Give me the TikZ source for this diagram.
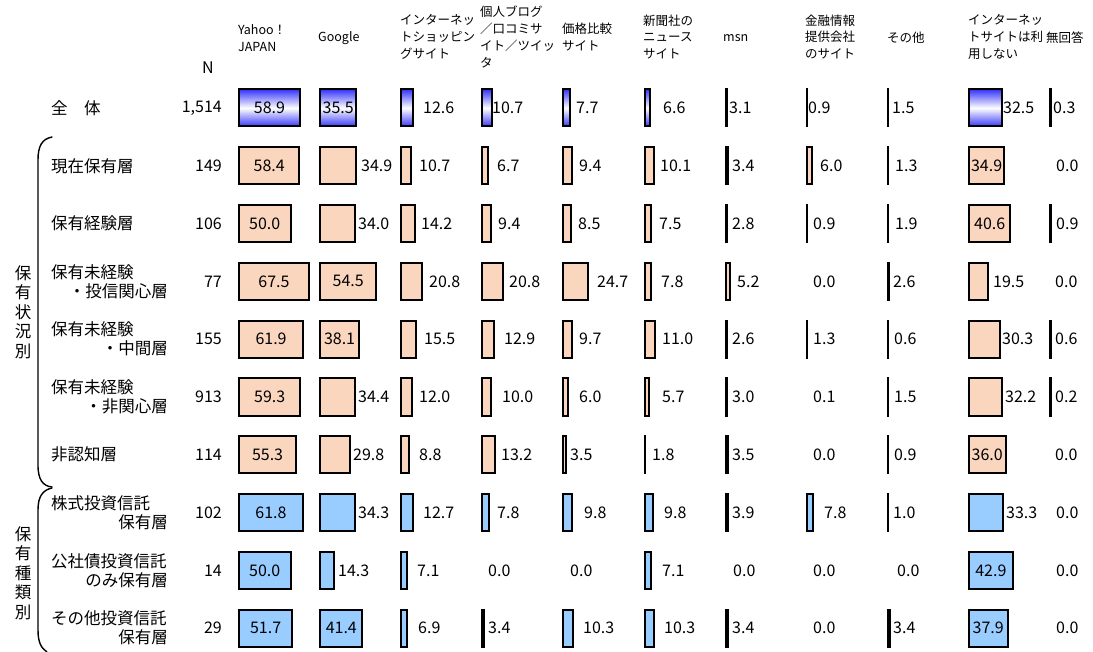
\documentclass[tikz,border=0pt]{standalone}
\usepackage{fontspec}
\setmainfont{Noto Sans CJK JP}
\definecolor{gblue}{RGB}{55,55,250}
\definecolor{peach}{RGB}{250,214,190}
\definecolor{lblue}{RGB}{153,204,255}
\tikzset{
 bar/.style={draw=black, line width=2pt, inner sep=0pt, minimum height=37pt, anchor=west},
 gr/.style={top color=gblue, bottom color=gblue, middle color=white},
 pc/.style={fill=peach},
 lb/.style={fill=lblue},
 val/.style={inner sep=0pt, font=\fontsize{16}{18}\selectfont},
 hdr/.style={inner sep=0pt, anchor=west, align=left, font=\fontsize{12.5}{16.8}\selectfont},
 rlab/.style={inner sep=0pt, font=\fontsize{16.5}{19}\selectfont},
 grp/.style={inner sep=0pt, align=center, font=\fontsize{16.5}{19.5}\selectfont},
 brace/.style={draw=black, line width=1.4pt, line cap=round}
}
\newcommand\Bin[4]{%
 \pgfmathsetmacro\cx{238+81.1*#2}%
 \pgfmathsetmacro\cy{108+57.8*#3}%
 \pgfmathsetmacro\bw{max(1.06*#4-1.5,0.6)}%
 \node[bar,#1,minimum width=\bw pt] (b#3-#2) at (\cx,\cy) {};
 \node[val] (l#3-#2) at (b#3-#2.center) {#4};
}
\newcommand\Bout[5]{%
 \pgfmathsetmacro\cx{238+81.1*#2}%
 \pgfmathsetmacro\cy{108+57.8*#3}%
 \pgfmathsetmacro\bw{max(1.06*#4-1.5,0.6)}%
 \node[bar,#1,minimum width=\bw pt] (b#3-#2) at (\cx,\cy) {};
 \node[val,anchor=west] (l#3-#2) at (#5,\cy) {#4};
}
\newcommand\Lab[4]{%
 \pgfmathsetmacro\cy{108+57.8*#2}%
 \node[val,anchor=west] (l#2-#1) at (#4,\cy) {#3};
}
\newcommand\RowA[3]{% row, label, N
 \pgfmathsetmacro\cy{108+57.8*#1}%
 \node[rlab,anchor=west] (r#1) at (51,\cy) {#2};
 \node[val,anchor=east] (n#1) at (222,\cy) {#3};
}
\newcommand\RowB[4]{% row, line1, line2, N
 \pgfmathsetmacro\cy{108+57.8*#1}%
 \node[rlab,anchor=west] (r#1a) at (51,\cy-9.5) {#2};
 \node[rlab,anchor=east] (r#1b) at (168,\cy+9.5) {#3};
 \node[val,anchor=east] (n#1) at (222,\cy) {#4};
}
\begin{document}
\begin{tikzpicture}[x=1pt,y=-1pt]
\useasboundingbox[fill=white] (0,0) rectangle (1093,652);
% headers
\node[val] (hN) at (208,68) {N};
\node[hdr] (h0) at (238,38) {Yahoo！\\JAPAN};
\node[hdr] (h1) at (318,38) {Google};
\node[hdr] (h2) at (400,37) {インターネッ\\トショッピン\\グサイト};
\node[hdr] (h3) at (480,37) {個人ブログ\\／口コミサ\\イト／ツイッ\\タ};
\node[hdr] (h4) at (562,37) {価格比較\\サイト};
\node[hdr] (h5) at (643,37) {新聞社の\\ニュース\\サイト};
\node[hdr] (h6) at (723,38) {msn};
\node[hdr] (h7) at (805,37) {金融情報\\提供会社\\のサイト};
\node[hdr] (h8) at (887,38) {その他};
\node[hdr] (h9) at (968,37) {インターネッ\\トサイトは利\\用しない};
\node[hdr] (h10) at (1046,38) {無回答};
% row labels
\RowA{0}{全　体}{1,514}
\RowA{1}{現在保有層}{149}
\RowA{2}{保有経験層}{106}
\RowB{3}{保有未経験}{・投信関心層}{77}
\RowB{4}{保有未経験}{・中間層}{155}
\RowB{5}{保有未経験}{・非関心層}{913}
\RowA{6}{非認知層}{114}
\RowB{7}{株式投資信託}{保有層}{102}
\RowB{8}{公社債投資信託}{のみ保有層}{14}
\RowB{9}{その他投資信託}{保有層}{29}
% group labels and braces
\node[grp] (g1) at (23,312) {保\\有\\状\\況\\別};
\node[grp] (g2) at (23,573) {保\\有\\種\\類\\別};
\draw[brace] (52,137) .. controls (42,139) and (38,146) .. (38,160) -- (38,465) .. controls (38,480) and (43,486) .. (52,487);
\draw[brace] (52,488) .. controls (43,490) and (38,496) .. (38,510) -- (38,630) .. controls (38,642) and (41,648) .. (47,652);
% row 0
\Bin{gr}{0}{0}{58.9}
\Bin{gr}{1}{0}{35.5}
\Bout{gr}{2}{0}{12.6}{423}
\Bout{gr}{3}{0}{10.7}{492}
\Bout{gr}{4}{0}{7.7}{576}
\Bout{gr}{5}{0}{6.6}{663}
\Bout{gr}{6}{0}{3.1}{729}
\Bout{gr}{7}{0}{0.9}{808}
\Bout{gr}{8}{0}{1.5}{892}
\Bout{gr}{9}{0}{32.5}{1003}
\Bout{gr}{10}{0}{0.3}{1053}
% row 1
\Bin{pc}{0}{1}{58.4}
\Bout{pc}{1}{1}{34.9}{361}
\Bout{pc}{2}{1}{10.7}{419}
\Bout{pc}{3}{1}{6.7}{497}
\Bout{pc}{4}{1}{9.4}{579}
\Bout{pc}{5}{1}{10.1}{660}
\Bout{pc}{6}{1}{3.4}{732}
\Bout{pc}{7}{1}{6.0}{820}
\Bout{pc}{8}{1}{1.3}{895}
\Bin{pc}{9}{1}{34.9}
\Lab{10}{1}{0.0}{1056}
% row 2
\Bin{pc}{0}{2}{50.0}
\Bout{pc}{1}{2}{34.0}{358}
\Bout{pc}{2}{2}{14.2}{421}
\Bout{pc}{3}{2}{9.4}{498}
\Bout{pc}{4}{2}{8.5}{578}
\Bout{pc}{5}{2}{7.5}{659}
\Bout{pc}{6}{2}{2.8}{732}
\Bout{pc}{7}{2}{0.9}{813}
\Bout{pc}{8}{2}{1.9}{895}
\Bin{pc}{9}{2}{40.6}
\Bout{pc}{10}{2}{0.9}{1056}
% row 3
\Bin{pc}{0}{3}{67.5}
\Bin{pc}{1}{3}{54.5}
\Bout{pc}{2}{3}{20.8}{429}
\Bout{pc}{3}{3}{20.8}{509}
\Bout{pc}{4}{3}{24.7}{597}
\Bout{pc}{5}{3}{7.8}{661}
\Bout{pc}{6}{3}{5.2}{737}
\Lab{7}{3}{0.0}{813}
\Bout{pc}{8}{3}{2.6}{893}
\Bout{pc}{9}{3}{19.5}{993}
\Lab{10}{3}{0.0}{1055}
% row 4
\Bin{pc}{0}{4}{61.9}
\Bin{pc}{1}{4}{38.1}
\Bout{pc}{2}{4}{15.5}{424}
\Bout{pc}{3}{4}{12.9}{504}
\Bout{pc}{4}{4}{9.7}{579}
\Bout{pc}{5}{4}{11.0}{662}
\Bout{pc}{6}{4}{2.6}{732}
\Bout{pc}{7}{4}{1.3}{813}
\Bout{pc}{8}{4}{0.6}{894}
\Bout{pc}{9}{4}{30.3}{1002}
\Bout{pc}{10}{4}{0.6}{1055}
% row 5
\Bin{pc}{0}{5}{59.3}
\Bout{pc}{1}{5}{34.4}{358}
\Bout{pc}{2}{5}{12.0}{419}
\Bout{pc}{3}{5}{10.0}{502}
\Bout{pc}{4}{5}{6.0}{579}
\Bout{pc}{5}{5}{5.7}{662}
\Bout{lb}{6}{5}{3.0}{732}
\Lab{7}{5}{0.1}{813}
\Bout{pc}{8}{5}{1.5}{894}
\Bout{pc}{9}{5}{32.2}{1005}
\Bout{pc}{10}{5}{0.2}{1055}
% row 6
\Bin{pc}{0}{6}{55.3}
\Bout{pc}{1}{6}{29.8}{353}
\Bout{pc}{2}{6}{8.8}{419}
\Bout{pc}{3}{6}{13.2}{501}
\Bout{pc}{4}{6}{3.5}{570}
\Bout{pc}{5}{6}{1.8}{652}
\Bout{pc}{6}{6}{3.5}{732}
\Lab{7}{6}{0.0}{813}
\Bout{pc}{8}{6}{0.9}{894}
\Bin{pc}{9}{6}{36.0}
\Lab{10}{6}{0.0}{1055}
% row 7
\Bin{lb}{0}{7}{61.8}
\Bout{lb}{1}{7}{34.3}{358}
\Bout{lb}{2}{7}{12.7}{423}
\Bout{lb}{3}{7}{7.8}{497}
\Bout{lb}{4}{7}{9.8}{584}
\Bout{lb}{5}{7}{9.8}{664}
\Bout{lb}{6}{7}{3.9}{732}
\Bout{lb}{7}{7}{7.8}{824}
\Bout{lb}{8}{7}{1.0}{893}
\Bout{lb}{9}{7}{33.3}{1006}
\Lab{10}{7}{0.0}{1056}
% row 8
\Bin{lb}{0}{8}{50.0}
\Bout{lb}{1}{8}{14.3}{338}
\Bout{lb}{2}{8}{7.1}{417}
\Lab{3}{8}{0.0}{488}
\Lab{4}{8}{0.0}{570}
\Bout{lb}{5}{8}{7.1}{662}
\Lab{6}{8}{0.0}{733}
\Lab{7}{8}{0.0}{813}
\Lab{8}{8}{0.0}{897}
\Bin{lb}{9}{8}{42.9}
\Lab{10}{8}{0.0}{1056}
% row 9
\Bin{lb}{0}{9}{51.7}
\Bin{lb}{1}{9}{41.4}
\Bout{lb}{2}{9}{6.9}{418}
\Bout{lb}{3}{9}{3.4}{488}
\Bout{lb}{4}{9}{10.3}{583}
\Bout{lb}{5}{9}{10.3}{664}
\Bout{lb}{6}{9}{3.4}{732}
\Lab{7}{9}{0.0}{813}
\Bout{lb}{8}{9}{3.4}{893}
\Bin{lb}{9}{9}{37.9}
\Lab{10}{9}{0.0}{1056}
\end{tikzpicture}
\end{document}
